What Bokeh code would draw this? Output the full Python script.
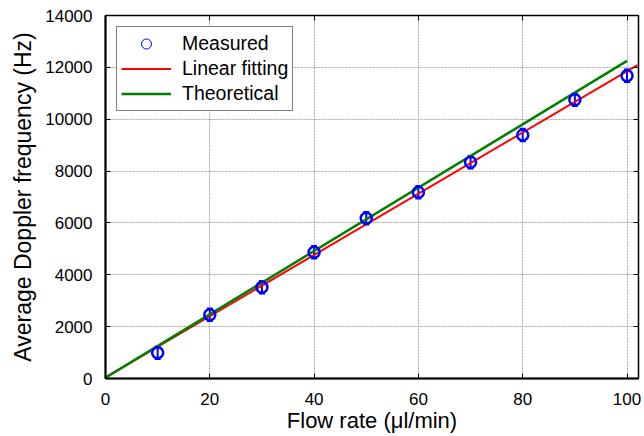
import numpy as np
from bokeh.plotting import figure
from bokeh.models import (Range1d, FixedTicker, LinearAxis, Legend, LegendItem,
                          ColumnDataSource, Whisker, TeeHead)
from bokeh.embed import file_html
from bokeh.resources import INLINE

# ---- data ----
flow = [10, 20, 30, 40, 50, 60, 70, 80, 90, 100]
measured = [990, 2460, 3520, 4870, 6180, 7180, 8340, 9390, 10750, 11680]
meas_err = [250, 250, 250, 250, 250, 250, 250, 250, 250, 250]
fit_x = [0, 102]
fit_y = [40, 12090]
theo_x = [0, 100]
theo_y = [30, 12250]
x_ticks = [0, 20, 40, 60, 80, 100]
y_ticks = [0, 2000, 4000, 6000, 8000, 10000, 12000, 14000]

FONT = "Liberation Sans"

p = figure(width=644, height=436, output_backend="svg", toolbar_location=None,
           x_range=Range1d(0, 102.2), y_range=Range1d(0, 14000),
           min_border_left=105, min_border_right=6, min_border_top=15, min_border_bottom=58)
p.background_fill_color = "white"
p.border_fill_color = "white"
p.outline_line_color = "black"
p.outline_line_width = 1.5

# grid
for g in (p.xgrid, p.ygrid):
    g.grid_line_color = "#a8a8a8"
    g.grid_line_dash = "2 1"
    g.grid_line_width = 1
p.xgrid.ticker = FixedTicker(ticks=x_ticks)
p.ygrid.ticker = FixedTicker(ticks=y_ticks)

def style_axis(ax, ticks):
    ax.ticker = FixedTicker(ticks=ticks)
    ax.axis_line_color = "black"
    ax.axis_line_width = 2
    ax.major_tick_in = 5
    ax.major_tick_out = 0
    ax.minor_tick_line_color = None
    ax.major_tick_line_color = "black"
    ax.major_label_text_font = FONT
    ax.major_label_text_font_size = "17px"
    ax.major_label_text_color = "black"
    ax.axis_label_text_font = FONT
    ax.axis_label_text_font_style = "normal"
    ax.axis_label_text_color = "black"

style_axis(p.xaxis[0], x_ticks)
style_axis(p.yaxis[0], y_ticks)
p.xaxis[0].axis_label = "Flow rate (\u03bcl/min)"
p.yaxis[0].axis_label = "Average Doppler frequency (Hz)"
p.xaxis[0].axis_label_text_font_size = "22px"
p.yaxis[0].axis_label_text_font_size = "23px"
p.xaxis[0].major_label_standoff = 14
p.yaxis[0].major_label_standoff = 13
p.xaxis[0].axis_label_standoff = 0
p.yaxis[0].axis_label_standoff = 6
p.yaxis[0].formatter.use_scientific = False

# box ticks on top and right (no labels)
for side, ticks in (("right", y_ticks), ("above", x_ticks)):
    ax = LinearAxis(ticker=FixedTicker(ticks=ticks), major_tick_in=5, major_tick_out=0,
                    minor_tick_line_color=None, axis_line_color="black",
                    major_label_overrides={t: "" for t in ticks},
                    major_label_standoff=0)
    p.add_layout(ax, side)

# lines
r_fit = p.line(fit_x, fit_y, line_color="#ff0000", line_width=2)
r_theo = p.line(theo_x, theo_y, line_color="#008000", line_width=2.5)

# measured points with small error bars
src = ColumnDataSource(data=dict(
    x=flow, y=measured,
    lo=[m - e for m, e in zip(measured, meas_err)],
    hi=[m + e for m, e in zip(measured, meas_err)]))
wh = Whisker(source=src, base="x", lower="lo", upper="hi", line_color="#0000ff", line_width=2,
             upper_head=TeeHead(size=6, line_color="#0000ff", line_width=1.5),
             lower_head=TeeHead(size=6, line_color="#0000ff", line_width=1.5))
p.add_layout(wh)
p.scatter("x", "y", source=src, marker="circle", size=11, fill_color=None,
          line_color="#0000ff", line_width=2.5)

# legend dummy for thin circle
r_leg = p.scatter([np.nan], [np.nan], marker="circle", size=9, fill_color=None,
                  line_color="#0000ff", line_width=1)

legend = Legend(items=[LegendItem(label="Measured", renderers=[r_leg]),
                       LegendItem(label="Linear fitting", renderers=[r_fit]),
                       LegendItem(label="Theoretical", renderers=[r_theo])],
                location="top_left", margin=11, padding=4, spacing=0,
                glyph_width=50, glyph_height=25, label_height=25,
                label_standoff=11,
                label_text_font=FONT, label_text_font_size="19.5px",
                label_text_color="black",
                border_line_color="black", border_line_width=1.5,
                background_fill_color="white", background_fill_alpha=1)
p.add_layout(legend, "center")

open("out.html", "w").write(file_html(p, INLINE))
